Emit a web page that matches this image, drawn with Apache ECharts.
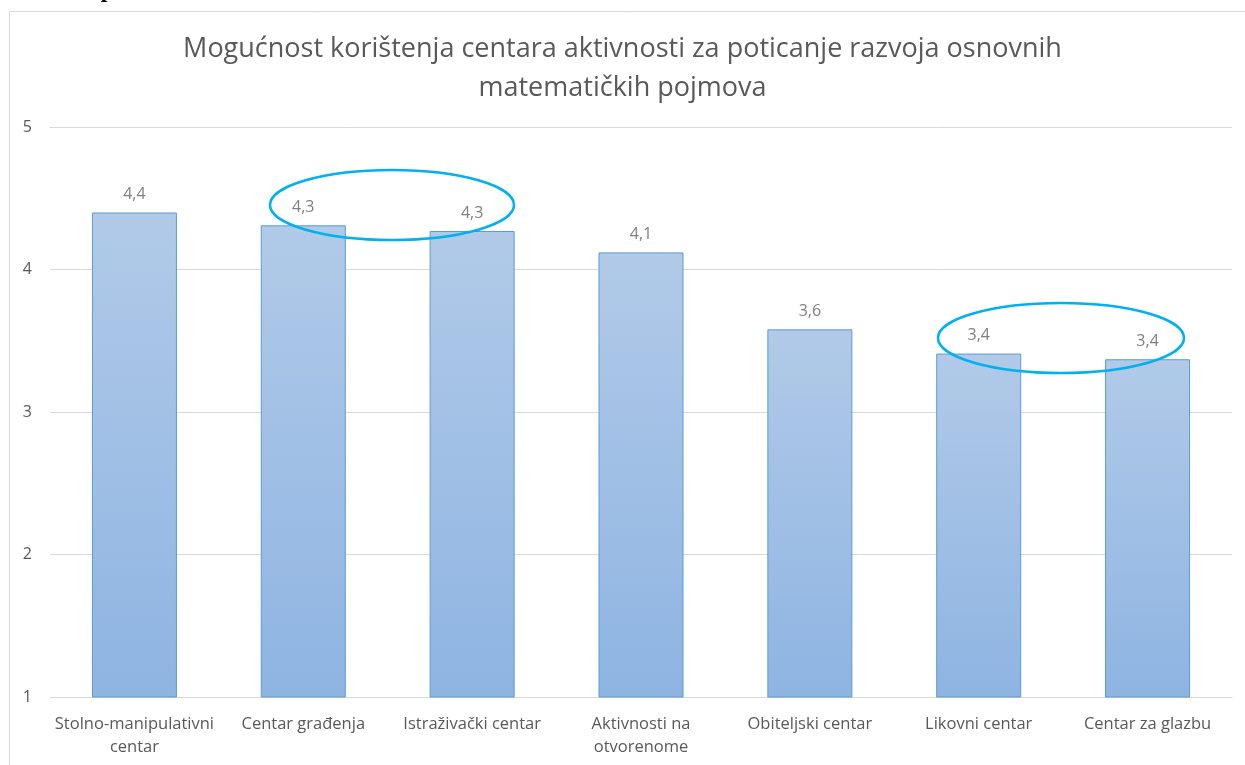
<!DOCTYPE html>
<html>
<head>
<meta charset="utf-8">
<script src="https://cdn.jsdelivr.net/npm/echarts@6/dist/echarts.min.js"></script>
<style>
  html, body { margin: 0; padding: 0; background: #fff; }
  #chart { width: 1245px; height: 765px; }
</style>
</head>
<body>
<div id="chart"></div>
<script>
// podaci grafikona
const titleText = 'Mogućnost korištenja centara aktivnosti za poticanje razvoja osnovnih\nmatematičkih pojmova';
const categories = [
  'Stolno-manipulativni\ncentar',
  'Centar građenja',
  'Istraživački centar',
  'Aktivnosti na\notvorenome',
  'Obiteljski centar',
  'Likovni centar',
  'Centar za glazbu'
];
const values = [4.40, 4.31, 4.27, 4.12, 3.58, 3.41, 3.37];
const yTicks = [1, 2, 3, 4, 5];

const font = '"Open Sans", sans-serif';
const chart = echarts.init(document.getElementById('chart'));

chart.setOption({
  animation: false,
  title: {
    text: titleText,
    left: 'center',
    top: 25,
    textStyle: { fontFamily: font, fontSize: 27, fontWeight: 'normal', color: '#595959', lineHeight: 39 }
  },
  grid: { left: 50, right: 13, top: 127, bottom: 68 },
  xAxis: {
    type: 'category',
    data: categories,
    axisLine: { lineStyle: { color: '#d9d9d9' } },
    axisTick: { show: false },
    axisLabel: { fontFamily: font, fontSize: 16.5, color: '#595959', margin: 16, lineHeight: 23, interval: 0 }
  },
  yAxis: {
    type: 'value',
    min: yTicks[0],
    max: yTicks[yTicks.length - 1],
    interval: 1,
    axisLine: { show: false },
    axisTick: { show: false },
    splitLine: { lineStyle: { color: '#d9d9d9' } },
    axisLabel: { fontFamily: font, fontSize: 16, color: '#595959', margin: 18 }
  },
  series: [{
    type: 'bar',
    data: values,
    barWidth: 85,
    itemStyle: {
      color: new echarts.graphic.LinearGradient(0, 0, 0, 1, [
        { offset: 0, color: '#b1cae8' },
        { offset: 1, color: '#8eb4e2' }
      ]),
      borderColor: '#5b9bd5',
      borderWidth: 1
    },
    label: {
      show: true,
      position: 'top',
      distance: 10,
      fontFamily: font,
      fontSize: 16,
      color: '#7f7f7f',
      formatter: p => p.value.toFixed(1).replace('.', ',')
    }
  }],
  graphic: [
    {
      type: 'rect', silent: true, z: -1,
      shape: { x: 9.5, y: 11.5, width: 1260, height: 800 },
      style: { fill: 'none', stroke: '#d9d9d9', lineWidth: 1 }
    },
    {
      type: 'text', left: 8, top: -21,
      style: { text: 'Grafički prikaz 7.', font: 'bold 24px "Liberation Serif"', fill: '#000' }
    },
    {
      type: 'ellipse', silent: true, z: 100,
      shape: { cx: 392, cy: 205, rx: 122, ry: 35 },
      style: { fill: 'none', stroke: '#00b0f0', lineWidth: 2.5 }
    },
    {
      type: 'ellipse', silent: true, z: 100,
      shape: { cx: 1061, cy: 338, rx: 123, ry: 35 },
      style: { fill: 'none', stroke: '#00b0f0', lineWidth: 2.5 }
    }
  ]
});
</script>
</body>
</html>
